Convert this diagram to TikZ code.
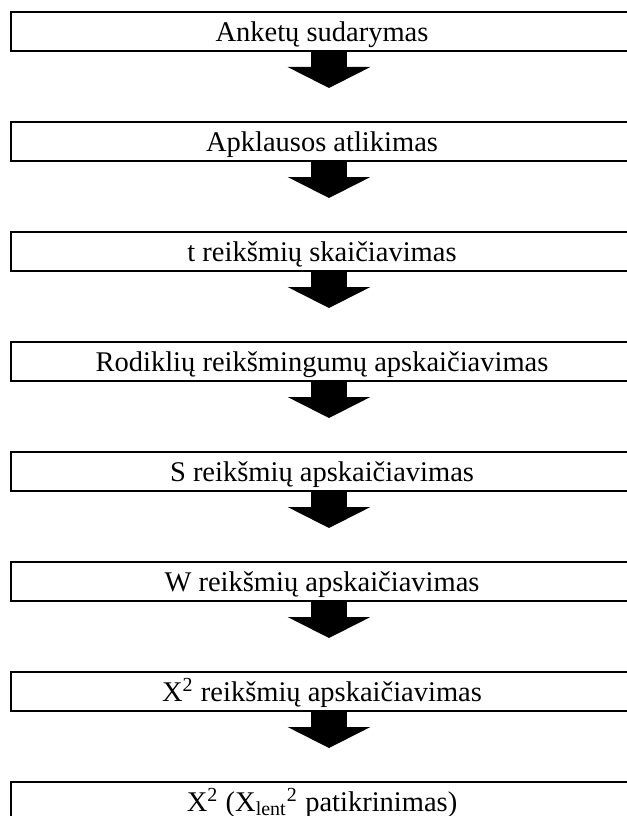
\documentclass[tikz,border=0pt]{standalone}
\usepackage{fontspec}
\setmainfont{Liberation Serif}
\usetikzlibrary{arrows.meta, positioning}
\tikzset{
    stepbox/.style = {draw, rectangle, line width=0.8pt, minimum width=248.8pt, 
      minimum height=15.6pt, text height=11.6pt, text depth=3.6pt, inner sep=0em, 
      node distance=0em, font=\fontsize{11.4}{13}\selectfont},
    bigarrow/.style = {black, line width=14.4pt, -{Triangle[length=8.4pt, width=32.8pt]}, 
      shorten >=13.2pt},
    every text node part/.style={align=center}
}

\begin{document}
\begin{tikzpicture}
    \clip (0,0) rectangle (250.8pt,-326.4pt);

    \node [name=s1, stepbox] at (128.8pt,-12.6pt) {Anketų sudarymas};
    \node [name=s2, stepbox, below of = s1, yshift=-44pt] {Apklausos atlikimas};
    \node [name=s3, stepbox, below of = s2, yshift=-44pt] {t reikšmių skaičiavimas};
    \node [name=s4, stepbox, below of = s3, yshift=-44pt] {Rodiklių reikšmingumų apskaičiavimas};
    \node [name=s5, stepbox, below of = s4, yshift=-44pt] {S reikšmių apskaičiavimas};
    \node [name=s6, stepbox, below of = s5, yshift=-44pt] {W reikšmių apskaičiavimas};
    \node [name=s7, stepbox, below of = s6, yshift=-44pt] {X\textsuperscript{2} reikšmių apskaičiavimas};
    \node [name=s8, stepbox, below of = s7, yshift=-44pt] 
        {X\textsuperscript{2} (X\textsubscript{lent}\textsuperscript{2} patikrinimas)};

    % block arrows between the steps
    \draw [bigarrow] ([xshift=2.8pt]s1.south) -- ([xshift=2.8pt]s2.north);
    \draw [bigarrow] ([xshift=2.8pt]s2.south) -- ([xshift=2.8pt]s3.north);
    \draw [bigarrow] ([xshift=2.8pt]s3.south) -- ([xshift=2.8pt]s4.north);
    \draw [bigarrow] ([xshift=2.8pt]s4.south) -- ([xshift=2.8pt]s5.north);
    \draw [bigarrow] ([xshift=2.8pt]s5.south) -- ([xshift=2.8pt]s6.north);
    \draw [bigarrow] ([xshift=2.8pt]s6.south) -- ([xshift=2.8pt]s7.north);
    \draw [bigarrow] ([xshift=2.8pt]s7.south) -- ([xshift=2.8pt]s8.north);
\end{tikzpicture}
\end{document}
